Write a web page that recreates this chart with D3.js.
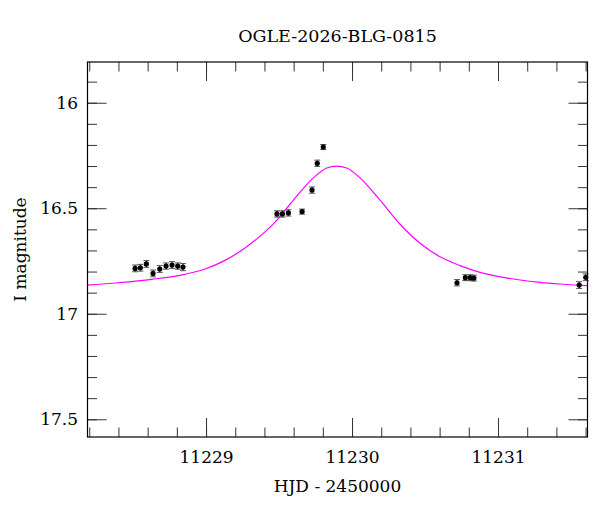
<!DOCTYPE html>
<html>
<head>
<meta charset="utf-8">
<script src="https://cdn.jsdelivr.net/npm/d3@7"></script>
<style>
  body { margin: 0; background: #fff; }
  text { font-family: "DejaVu Serif", serif; fill: #000; }
</style>
</head>
<body>
<div id="chart"></div>
<script>
// Photometry (HJD - 2450000, I mag, error)
var obsDays = [11228.514, 11228.550, 11228.591, 11228.637, 11228.683, 11228.726, 11228.767, 11228.806, 11228.842,
               11229.486, 11229.523, 11229.564, 11229.658, 11229.726, 11229.762, 11229.803,
               11230.719, 11230.776, 11230.810, 11230.835,
               11231.556, 11231.601];
var obsMags = [16.785, 16.782, 16.764, 16.809, 16.788, 16.774, 16.769, 16.774, 16.779,
               16.527, 16.527, 16.522, 16.516, 16.414, 16.287, 16.210,
               16.853, 16.829, 16.829, 16.831,
               16.864, 16.827];
var obsErrs = [0.016, 0.016, 0.016, 0.016, 0.016, 0.015, 0.016, 0.015, 0.017,
               0.015, 0.015, 0.015, 0.012, 0.015, 0.015, 0.012,
               0.015, 0.014, 0.014, 0.014,
               0.016, 0.016];

// Model curve
var modelDays = [11228.171, 11228.399, 11228.628, 11228.856, 11228.993, 11229.130, 11229.267, 11229.404, 11229.473,
                 11229.598, 11229.735, 11229.827, 11229.895, 11229.963, 11230.055, 11230.192, 11230.329, 11230.466,
                 11230.603, 11230.740, 11230.877, 11231.014, 11231.151, 11231.288, 11231.425, 11231.562, 11231.620];
var modelMags = [16.865, 16.853, 16.837, 16.813, 16.788, 16.747, 16.688, 16.612, 16.566,
                 16.462, 16.356, 16.309, 16.300, 16.309, 16.356, 16.462, 16.576, 16.666,
                 16.730, 16.772, 16.804, 16.825, 16.840, 16.851, 16.859, 16.865, 16.867];

var xMajor = [11229, 11230, 11231];
var yMajor = [16, 16.5, 17, 17.5];

var title = "OGLE-2026-BLG-0815";
var xLabel = "HJD - 2450000";
var yLabel = "I magnitude";

var margin = { top: 62, right: 12.5, bottom: 75, left: 87.5 },
    width = 600 - margin.left - margin.right,
    height = 512 - margin.top - margin.bottom;

var svg = d3.select("#chart")
  .append("svg")
  .attr("width", 600)
  .attr("height", 512);

var g = svg.append("g")
  .attr("transform", "translate(" + margin.left + "," + margin.top + ")");

var x = d3.scaleLinear().domain([11228.188, 11231.613]).range([0, width]);
var y = d3.scaleLinear().domain([15.807, 17.584]).range([0, height]);

var xMinor = d3.range(11228.2, 11231.7, 0.2).filter(function(d) { return d < x.domain()[1]; });
var yMinor = d3.range(15.9, 17.6, 0.1).filter(function(d) { return d < y.domain()[1]; });

g.append("clipPath").attr("id", "clip")
  .append("rect").attr("width", width).attr("height", height);

// ticks (inward, all four sides)
function ticks(axis, vals, size, tx, ty, labels, pad) {
  var a = axis.tickValues(vals).tickSize(-size).tickPadding(pad || 0)
    .tickFormat(labels ? function(d) { return String(d); } : "");
  var sel = g.append("g").attr("transform", "translate(" + tx + "," + ty + ")").call(a);
  sel.select(".domain").remove();
  sel.selectAll("line").attr("stroke", "#333").attr("stroke-width", 1);
  sel.selectAll("text").style("font-size", "17px").style("font-family", "DejaVu Serif, serif").attr("fill", "#000");
  return sel;
}
ticks(d3.axisBottom(x), xMinor, 9.5, 0, height, false);
ticks(d3.axisBottom(x), xMajor, 19, 0, height, true, 14);
ticks(d3.axisTop(x), xMinor, 9.5, 0, 0, false);
ticks(d3.axisTop(x), xMajor, 19, 0, 0, false);
ticks(d3.axisLeft(y), yMinor, 9.5, 0, 0, false);
ticks(d3.axisLeft(y), yMajor, 19, 0, 0, true, 9.5);
ticks(d3.axisRight(y), yMinor, 9.5, width, 0, false);
ticks(d3.axisRight(y), yMajor, 19, width, 0, false);

// model
var line = d3.line()
  .x(function(d, i) { return x(modelDays[i]); })
  .y(function(d) { return y(d); })
  .curve(d3.curveMonotoneX);

g.append("path")
  .datum(modelMags)
  .attr("clip-path", "url(#clip)")
  .attr("d", line)
  .attr("fill", "none")
  .attr("stroke", "#ff00ff")
  .attr("stroke-width", 1.2);

// observations with error bars
var pts = g.selectAll(".obs")
  .data(obsMags)
  .enter()
  .append("g")
  .attr("class", "obs");

pts.append("line")
  .attr("x1", function(d, i) { return x(obsDays[i]); })
  .attr("x2", function(d, i) { return x(obsDays[i]); })
  .attr("y1", function(d, i) { return y(d - obsErrs[i]); })
  .attr("y2", function(d, i) { return y(d + obsErrs[i]); })
  .attr("stroke", "#000");

[-1, 1].forEach(function(s) {
  pts.append("line")
    .attr("x1", function(d, i) { return x(obsDays[i]) - 3; })
    .attr("x2", function(d, i) { return x(obsDays[i]) + 3; })
    .attr("y1", function(d, i) { return y(d + s * obsErrs[i]); })
    .attr("y2", function(d, i) { return y(d + s * obsErrs[i]); })
    .attr("stroke", "#555");
});

pts.append("circle")
  .attr("cx", function(d, i) { return x(obsDays[i]); })
  .attr("cy", function(d) { return y(d); })
  .attr("r", 2.6)
  .attr("fill", "#000");

// frame
g.append("rect")
  .attr("width", width)
  .attr("height", height)
  .attr("fill", "none")
  .attr("stroke", "#000")
  .attr("stroke-width", 1.2);

// labels
svg.append("text")
  .attr("x", margin.left + width / 2)
  .attr("y", 41.5)
  .attr("text-anchor", "middle")
  .style("font-size", "17.5px")
  .text(title);

svg.append("text")
  .attr("x", margin.left + width / 2)
  .attr("y", 491.5)
  .attr("text-anchor", "middle")
  .style("font-size", "17px")
  .text(xLabel);

svg.append("text")
  .attr("transform", "translate(26," + (margin.top + height / 2) + ") rotate(-90)")
  .attr("text-anchor", "middle")
  .style("font-size", "17px")
  .text(yLabel);
</script>
</body>
</html>
